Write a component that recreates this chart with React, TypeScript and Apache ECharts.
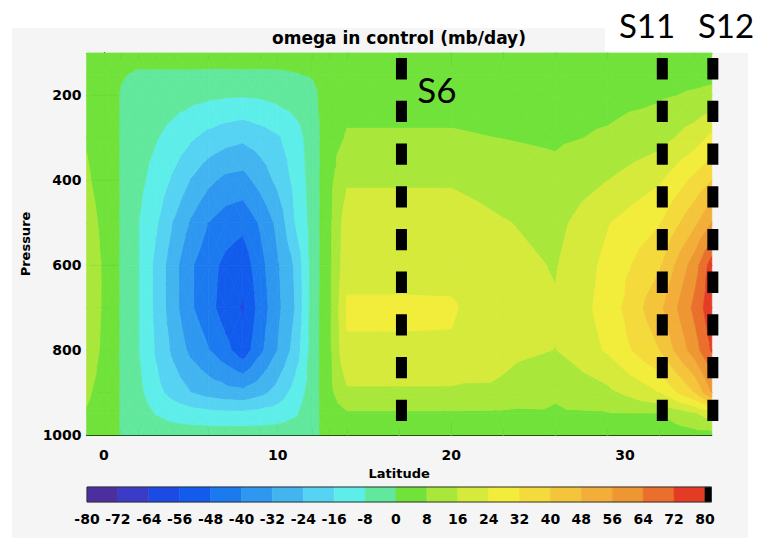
import React, { useEffect, useRef } from "react";
import * as echarts from "echarts";

// ---- data ----
const LATS = [-1, 0, 1, 2, 3, 4, 5, 6, 7, 8, 9, 10, 11, 12, 13, 14, 17, 20, 23, 26, 29, 32, 34, 35];
const PRESSURES = [100, 150, 200, 300, 400, 500, 600, 700, 800, 900, 950, 1000];

// omega (mb/day), one row per pressure level, one value per latitude in LATS
const OMEGA_100 = [4, 3.5, 2.5, 2.5, 2.5, 2.5, 2.5, 2.5, 2.8, 3, 2.8, 2.5, 2.5, 2.5, 3, 4, 4, 4, 3.5, 3, 3, 3.5, 4, 4];
const OMEGA_150 = [5, 3.5, 0.5, -0.8, -0.8, -0.8, -0.8, -0.9, -1, -1, -1, -0.8, -0.3, 0.5, 3, 5, 5, 5, 4.5, 4, 4, 5, 5.5, 6];
const OMEGA_200 = [6, 4, -0.6, -2.5, -3.5, -4.5, -5.5, -6.5, -7.2, -7.5, -7, -5.5, -4, -2, 4, 6, 6, 6, 5.5, 5, 5.5, 7, 9, 10];
const OMEGA_300 = [7.5, 4.5, -0.7, -5, -7.5, -11, -15, -18.5, -21, -22.5, -20, -17, -12, -4, 5, 8.6, 8.6, 8.6, 7.9, 6.8, 9, 13, 20, 26];
const OMEGA_400 = [9, 5, -0.75, -6, -11, -17.5, -24.5, -30, -34, -35, -29, -22, -14, -4.5, 6, 15, 15, 15, 12, 10.5, 16, 23, 34, 40];
const OMEGA_500 = [11.5, 6, -0.9, -8, -15, -24.5, -33, -40, -44, -46, -39, -30, -16, -5, 6.5, 20.5, 20.5, 20.5, 16.5, 13.5, 23.5, 31.5, 46, 56];
const OMEGA_600 = [13, 7, -1.05, -8, -18, -29, -39, -45, -50, -53, -43, -33, -23, -5, 6.5, 21.7, 21.7, 21.7, 18.5, 15.5, 26, 39, 60, 76];
const OMEGA_700 = [13, 7, -1.05, -8, -18, -29, -39, -45, -52, -57, -45, -34, -24, -4.5, 6.5, 25, 25, 24.8, 19, 16.6, 27, 46, 66, 78];
const OMEGA_800 = [12, 6.5, -1, -8, -17, -26, -34, -39.5, -45.5, -53, -42, -32, -21, -4.5, 6.5, 23.2, 23.2, 23.2, 18, 15.9, 25, 40, 60, 73];
const OMEGA_900 = [9, 5.5, -0.8, -6, -13.5, -19, -24, -27, -29, -30, -26.5, -21, -13, -4, 6, 14.7, 14.7, 14.7, 14.5, 9, 14, 24, 40, 56];
const OMEGA_950 = [7.5, 4.5, -0.7, -4, -8.5, -11, -12.5, -13.5, -14, -14, -13, -12, -9, -3.5, 5, 6.9, 6.9, 6.9, 6.6, 7, 7.5, 8, 15, 20];
const OMEGA_1000 = [6, 4, -0.6, -2, -3, -4, -4, -4, -4, -4, -4, -4, -3.5, -3, 4, 5, 5, 5, 5, 5, 5, 4, 5, 5];
const OMEGA = [OMEGA_100, OMEGA_150, OMEGA_200, OMEGA_300, OMEGA_400, OMEGA_500, OMEGA_600, OMEGA_700, OMEGA_800, OMEGA_900, OMEGA_950, OMEGA_1000];

// contour levels and fill colours
const LEVELS = [-80, -72, -64, -56, -48, -40, -32, -24, -16, -8, 0, 8, 16, 24, 32, 40, 48, 56, 64, 72, 80];
const COLORS = [
  "#4b2f9e", "#3a3cc8", "#1c4ae4", "#115cec", "#1c7af0", "#2e98f0", "#42b4f0", "#56d2f2", "#5eeeea", "#62e89c",
  "#70e23a", "#a9e83a", "#d5ea3a", "#f2ec3a", "#f4da3a", "#f4c43a", "#f2ae38", "#ee9632", "#ea6e2c", "#e43c24",
];
const OVERFLOW_COLOR = "#000000";
const COLORBAR_MAX = 81.7;

const X_LABELS = [0, 10, 20, 30];
const X_MINOR = [1, 2, 3, 4, 5, 6, 7, 8, 9, 11, 12, 13, 14, 15, 16, 17, 18, 19, 21, 22, 23, 24, 25, 26, 27, 28, 29, 31, 32, 33, 34];
const Y_LABELS = [200, 400, 600, 800, 1000];
const Y_MINOR = [300, 500, 700, 900];

const SECTIONS = [
  { name: "S6", lat: 17.13 },
  { name: "S11", lat: 32.15 },
  { name: "S12", lat: 35.06 },
];
const DASH_TOP = 112;

// ---- contour helpers ----
type P3 = [number, number, number];
function clip(poly: P3[], L: number, keepAbove: boolean): P3[] {
  const out: P3[] = [];
  const n = poly.length;
  for (let k = 0; k < n; k++) {
    const a = poly[k];
    const b = poly[(k + 1) % n];
    const ain = keepAbove ? a[2] >= L : a[2] <= L;
    const bin = keepAbove ? b[2] >= L : b[2] <= L;
    if (ain) out.push(a);
    if (ain !== bin) {
      const t = (L - a[2]) / (b[2] - a[2]);
      out.push([a[0] + t * (b[0] - a[0]), a[1] + t * (b[1] - a[1]), L]);
    }
  }
  return out;
}

const CELLS: number[][] = [];
for (let j = 0; j < PRESSURES.length - 1; j++) {
  for (let i = 0; i < LATS.length - 1; i++) {
    CELLS.push([LATS[i], PRESSURES[j], LATS[i + 1], PRESSURES[j + 1], i, j]);
  }
}

const axisFont = { fontFamily: "DejaVu Sans", fontWeight: "bold" as const, color: "#000" };
const plain = (v: number) => String(v);

export default function App() {
  const ref = useRef<HTMLDivElement>(null);
  useEffect(() => {
    const chart = echarts.init(ref.current!, null, { renderer: "svg" });

    const contourSeries = {
      type: "custom",
      xAxisIndex: 0,
      yAxisIndex: 0,
      data: CELLS,
      encode: { x: [0, 2], y: [1, 3] },
      silent: true,
      z: 1,
      renderItem: (params: any, api: any) => {
        const i = api.value(4);
        const j = api.value(5);
        const corners: P3[] = [
          [LATS[i], PRESSURES[j], OMEGA[j][i]],
          [LATS[i + 1], PRESSURES[j], OMEGA[j][i + 1]],
          [LATS[i + 1], PRESSURES[j + 1], OMEGA[j + 1][i + 1]],
          [LATS[i], PRESSURES[j + 1], OMEGA[j + 1][i]],
        ];
        const center: P3 = [0, 0, 0];
        corners.forEach((c) => {
          center[0] += c[0] / 4;
          center[1] += c[1] / 4;
          center[2] += c[2] / 4;
        });
        const children: any[] = [];
        for (let k = 0; k < 4; k++) {
          const tri: P3[] = [corners[k], corners[(k + 1) % 4], center];
          for (let b = 0; b < COLORS.length; b++) {
            let poly = clip(tri, LEVELS[b], true);
            if (poly.length < 3) continue;
            if (b < COLORS.length - 1) poly = clip(poly, LEVELS[b + 1], false);
            if (poly.length < 3) continue;
            const pts = poly.map((p) => api.coord([p[0], p[1]]));
            children.push({
              type: "polygon",
              shape: { points: pts },
              style: { fill: COLORS[b], stroke: COLORS[b], lineWidth: 0.7 },
              silent: true,
            });
          }
        }
        return { type: "group", children };
      },
    };

    const barData = COLORS.map((c, k) => [LEVELS[k], LEVELS[k + 1], k]);
    barData.push([LEVELS[LEVELS.length - 1], COLORBAR_MAX, COLORS.length]);
    barData.push([LEVELS[0], COLORBAR_MAX, -1]);
    const colorbarSeries = {
      type: "custom",
      xAxisIndex: 4,
      yAxisIndex: 4,
      data: barData,
      encode: { x: [0, 1] },
      silent: true,
      renderItem: (params: any, api: any) => {
        const lo = api.value(0);
        const hi = api.value(1);
        const k = api.value(2);
        const p0 = api.coord([lo, 0]);
        const p1 = api.coord([hi, 1]);
        const shape = { x: p0[0], y: p1[1], width: p1[0] - p0[0], height: p0[1] - p1[1] };
        if (k < 0) {
          return { type: "rect", shape, style: { fill: "none", stroke: "#333", lineWidth: 1 }, z2: 10 };
        }
        const fill = k < COLORS.length ? COLORS[k] : OVERFLOW_COLOR;
        return { type: "rect", shape, style: { fill, stroke: fill, lineWidth: 0.5 } };
      },
    };

    const sectionSeries = SECTIONS.map((s) => ({
      type: "line",
      name: s.name,
      xAxisIndex: 0,
      yAxisIndex: 0,
      data: [
        [s.lat, DASH_TOP],
        [s.lat, 1000],
      ],
      symbol: "none",
      clip: false,
      silent: true,
      z: 10,
      lineStyle: { color: "#000", width: 11, type: [21.3, 21.4], cap: "butt" },
    }));

    const xCommon = { gridIndex: 0, type: "value", min: -1, max: 35, splitLine: { show: false } };
    const yCommon = { gridIndex: 0, type: "value", min: 100, max: 1000, inverse: true, splitLine: { show: false } };
    const line = { show: true, lineStyle: { color: "#000", width: 1 } };

    chart.setOption({
      animation: false,
      backgroundColor: "#ffffff",
      title: {
        text: "omega in control (mb/day)",
        left: 399,
        top: 29,
        textAlign: "center",
        padding: 0,
        textStyle: { fontFamily: "DejaVu Sans", fontWeight: "bold", fontSize: 17, color: "#000" },
      },
      graphic: [
        { type: "rect", z: -10, silent: true, shape: { x: 12, y: 28, width: 736, height: 510 }, style: { fill: "#f5f5f5" } },
        { type: "rect", z: -9, silent: true, shape: { x: 605, y: 0, width: 152, height: 53 }, style: { fill: "#ffffff" } },
        {
          type: "text", z: 100, x: 437, y: 89,
          style: { text: "S6", font: "35px Lato", fill: "#000", textAlign: "center", textVerticalAlign: "middle" },
        },
        {
          type: "text", z: 100, x: 647, y: 25,
          style: { text: "S11", font: "33px Lato", fill: "#000", textAlign: "center", textVerticalAlign: "middle" },
        },
        {
          type: "text", z: 100, x: 726, y: 25,
          style: { text: "S12", font: "33px Lato", fill: "#000", textAlign: "center", textVerticalAlign: "middle" },
        },
      ],
      grid: [
        { left: 86.6, top: 53, width: 625.2, height: 382, containLabel: false },
        { left: 87, top: 487, width: 624.5, height: 15, containLabel: false },
      ],
      xAxis: [
        {
          ...xCommon,
          position: "bottom",
          axisLine: line,
          axisTick: { show: true, inside: true, length: 14, customValues: X_LABELS, lineStyle: { color: "#000" } },
          axisLabel: { customValues: X_LABELS, formatter: plain, margin: 13, fontSize: 14, ...axisFont },
          name: "Latitude",
          nameLocation: "middle",
          nameGap: 30,
          nameTextStyle: { fontSize: 13, ...axisFont },
        },
        {
          ...xCommon,
          position: "bottom",
          axisLine: { show: false },
          axisTick: { show: true, inside: true, length: 7, customValues: X_MINOR, lineStyle: { color: "#000" } },
          axisLabel: { show: false },
        },
        {
          ...xCommon,
          position: "top",
          axisLine: line,
          axisTick: { show: true, inside: true, length: 14, customValues: X_LABELS, lineStyle: { color: "#000" } },
          axisLabel: { show: false },
        },
        {
          ...xCommon,
          position: "top",
          axisLine: { show: false },
          axisTick: { show: true, inside: true, length: 7, customValues: X_MINOR, lineStyle: { color: "#000" } },
          axisLabel: { show: false },
        },
        {
          gridIndex: 1,
          type: "value",
          min: LEVELS[0],
          max: COLORBAR_MAX,
          position: "bottom",
          axisLine: { show: false },
          axisTick: { show: false },
          splitLine: { show: false },
          axisLabel: { customValues: LEVELS, formatter: plain, margin: 10, fontSize: 14, ...axisFont },
        },
      ],
      yAxis: [
        {
          ...yCommon,
          position: "left",
          axisLine: line,
          axisTick: { show: true, inside: true, length: 14, customValues: Y_LABELS, lineStyle: { color: "#000" } },
          axisLabel: { customValues: Y_LABELS, formatter: plain, margin: 5, fontSize: 14, ...axisFont },
          name: "Pressure",
          nameLocation: "middle",
          nameGap: 47,
          nameRotate: 90,
          nameTextStyle: { fontSize: 13, ...axisFont },
        },
        {
          ...yCommon,
          position: "left",
          axisLine: { show: false },
          axisTick: { show: true, inside: true, length: 7, customValues: Y_MINOR, lineStyle: { color: "#000" } },
          axisLabel: { show: false },
        },
        {
          ...yCommon,
          position: "right",
          axisLine: line,
          axisTick: { show: true, inside: true, length: 14, customValues: Y_LABELS, lineStyle: { color: "#000" } },
          axisLabel: { show: false },
        },
        {
          ...yCommon,
          position: "right",
          axisLine: { show: false },
          axisTick: { show: true, inside: true, length: 7, customValues: Y_MINOR, lineStyle: { color: "#000" } },
          axisLabel: { show: false },
        },
        { gridIndex: 1, type: "value", min: 0, max: 1, show: false },
      ],
      series: [contourSeries, colorbarSeries, ...sectionSeries],
    });
    return () => chart.dispose();
  }, []);
  return (
    <div
      ref={ref}
      style={{ position: "fixed", left: 0, top: 0, width: 757, height: 538, background: "#fff" }}
    />
  );
}
